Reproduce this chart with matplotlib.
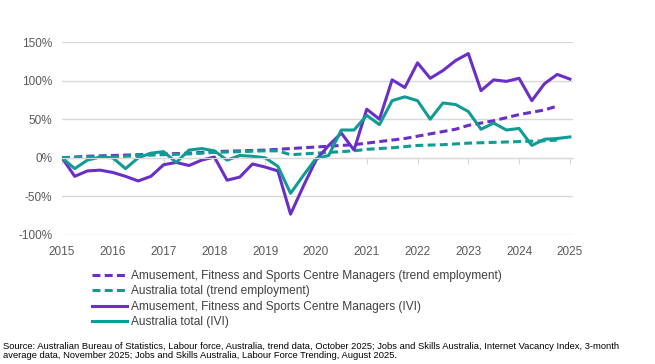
import numpy as np
import matplotlib.pyplot as plt

plt.rcParams['font.family'] = ['Liberation Sans', 'DejaVu Sans']

# quarterly points, 2015 Q1 .. 2025 Q1
quarters = np.arange(2015, 2025.01, 0.25)

afs_ivi = [0, -24, -17, -16, -19, -24, -30, -24, -9, -6, -10, -3, 1,
           -29, -25, -8, -12, -17, -73, -37, -3, 16, 32, 10, 63, 50,
           101, 91, 123, 103, 113, 126, 135, 87, 101, 99, 103, 74, 96, 108, 102]
aus_ivi = [0, -14, -3, 1, 0, -14, 0, 6, 8, -6, 10, 12, 9,
           -3, 3, 2, 0, -11, -46, -23, -1, 3, 36, 36, 55, 43,
           74, 79, 74, 50, 71, 69, 60, 37, 45, 36, 38, 16, 24, 25, 27]

# trend employment ends 2024 Q4
trend_q = np.arange(2015, 2024.76, 0.25)
afs_trend = [0, 1, 2, 2.5, 3, 3.5, 4, 4.5, 5, 5.5, 6, 7, 8,
             8.5, 9, 9.5, 10, 11, 12, 13, 14, 15, 16, 17, 19, 21,
             23, 25, 28, 31, 34, 37, 42, 45, 48, 52, 56, 59, 62, 67]
aus_trend = [0, 0.5, 1, 1, 1, 2, 3, 3.5, 4, 4.5, 5, 6, 7,
             7.5, 8, 8.5, 9, 9, 4, 5, 6, 7, 8, 9, 11, 12,
             13, 14.5, 16, 16.5, 17, 18, 19, 19.5, 20, 20.5, 21, 21.5, 22, 23]

years = list(range(2015, 2026))
purple = '#6a2fc8'
teal = '#109c94'
grey = '#d9d9d9'

fig = plt.figure(figsize=(6.55, 3.64), dpi=100)
ax = fig.add_axes([0.0947, 0.3544, 0.780, 0.5302])

ax.plot(trend_q, afs_trend, color=purple, lw=2.2, dashes=(2.6, 1.4),
        label='Amusement, Fitness and Sports Centre Managers (trend employment)')
ax.plot(trend_q, aus_trend, color=teal, lw=2.2, dashes=(2.6, 1.4),
        label='Australia total (trend employment)')
ax.plot(quarters, afs_ivi, color=purple, lw=2.2,
        label='Amusement, Fitness and Sports Centre Managers (IVI)')
ax.plot(quarters, aus_ivi, color=teal, lw=2.2, label='Australia total (IVI)')

ax.set_xlim(2015, 2025.06)
ax.set_ylim(-100, 150)
ax.set_yticks([-100, -50, 0, 50, 100, 150])
ax.set_yticklabels([f'{v}%' for v in [-100, -50, 0, 50, 100, 150]])
ax.grid(axis='y', color=grey, lw=1)
ax.set_axisbelow(True)
for s in ['top', 'right', 'left']:
    ax.spines[s].set_visible(False)
ax.spines['bottom'].set_position(('data', 0))
ax.spines['bottom'].set_color(grey)
ax.set_xticks(years)
ax.tick_params(axis='x', length=4, color=grey, labelbottom=False)
ax.tick_params(axis='y', length=0, pad=7, labelsize=8.5, labelcolor='#595959')

sec = ax.secondary_xaxis(-0.0)
sec.set_xticks(years)
sec.set_xticklabels([str(y) for y in years])
sec.tick_params(length=0, pad=8, labelsize=8.5, labelcolor='#595959')
sec.spines['bottom'].set_visible(False)

ax.legend(loc='upper left', bbox_to_anchor=(0.05, -0.155), frameon=False,
          fontsize=8.6, handlelength=2.9, handletextpad=0.3,
          labelspacing=0.3, borderaxespad=0, labelcolor='#404040')

fig.text(0.005, 0.012,
         'Source: Australian Bureau of Statistics, Labour force, Australia, trend data, October 2025; '
         'Jobs and Skills Australia, Internet Vacancy Index, 3-month\n'
         'average data, November 2025; Jobs and Skills Australia, Labour Force Trending, August 2025.',
         fontsize=6.75, va='bottom', linespacing=1.0)

fig.savefig('out.png', dpi=100)
